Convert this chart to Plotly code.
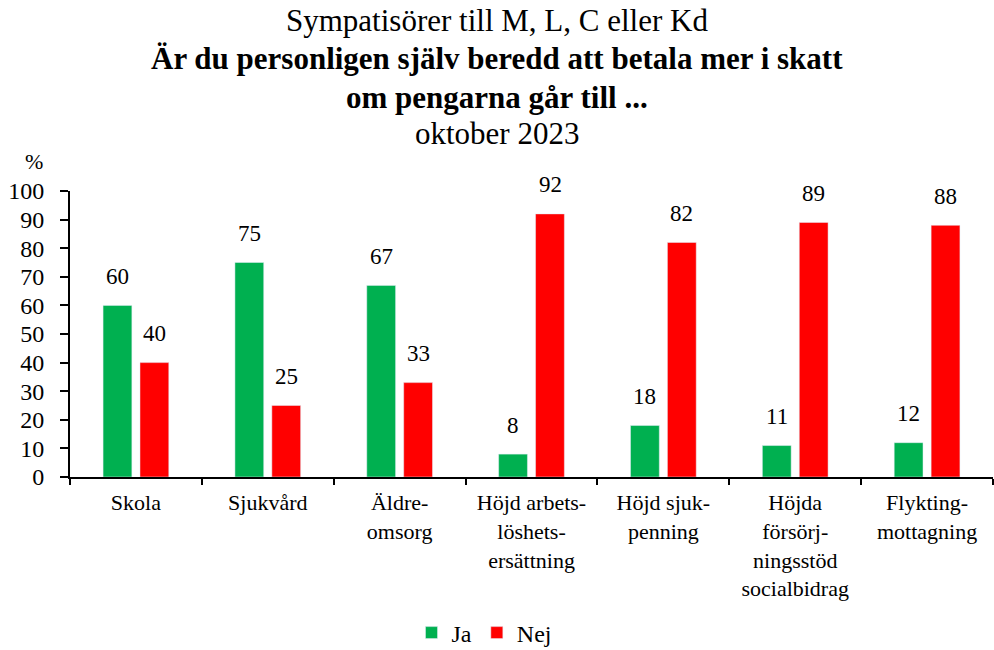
import plotly.graph_objects as go

categories = [
    "Skola",
    "Sjukvård",
    "Äldre-<br>omsorg",
    "Höjd arbets-<br>löshets-<br>ersättning",
    "Höjd sjuk-<br>penning",
    "Höjda<br>försörj-<br>ningsstöd<br>socialbidrag",
    "Flykting-<br>mottagning",
]
ja = [60, 75, 67, 8, 18, 11, 12]
nej = [40, 25, 33, 92, 82, 89, 88]

FONT = "Liberation Serif"
PLOT_TOP, PLOT_H, PLOT_L, PLOT_W = 191, 286, 70, 923


def py(ypx):
    # page pixel y -> paper coordinate
    return 1 + (PLOT_TOP - ypx) / PLOT_H


def px(xpx):
    return (xpx - PLOT_L) / PLOT_W


fig = go.Figure()
fig.add_trace(go.Bar(x=categories, y=ja, name="Ja", marker_color="#00B050"))
fig.add_trace(go.Bar(x=categories, y=nej, name="Nej", marker_color="#FF0000"))

# value labels above bars
for vals, shift in ((ja, -18.5), (nej, 18.5)):
    for cat, v in zip(categories, vals):
        fig.add_annotation(
            x=cat, y=v, text=str(v), showarrow=False, xshift=shift,
            yanchor="middle", yshift=29,
            font=dict(size=23, color="black", family=FONT),
        )

title_lines = [
    ("Sympatisörer till M, L, C eller Kd", 20),
    ("<b>Är du personligen själv beredd att betala mer i skatt</b>", 59),
    ("<b>om pengarna går till ...</b>", 98),
    ("oktober 2023", 133),
]
for txt, ypx in title_lines:
    fig.add_annotation(
        text=txt, xref="paper", yref="paper", x=px(497), xanchor="center",
        y=py(ypx), yanchor="middle", showarrow=False,
        font=dict(size=31, color="black", family=FONT),
    )

fig.add_annotation(
    text="%", xref="paper", yref="paper", x=px(34), y=py(162),
    xanchor="center", yanchor="middle", showarrow=False,
    font=dict(size=22, color="black", family=FONT),
)

fig.update_layout(
    width=994, height=650,
    margin=dict(l=PLOT_L, r=1, t=PLOT_TOP, b=650 - PLOT_TOP - PLOT_H),
    plot_bgcolor="white", paper_bgcolor="white",
    font=dict(family=FONT, size=22, color="black"),
    barmode="group", bargap=0.44, bargroupgap=0.22,
    showlegend=True,
    legend=dict(orientation="h", x=484 / 994, xref="container", xanchor="center",
                y=1 - 633 / 650, yref="container", yanchor="middle",
                font=dict(size=24), itemwidth=30, tracegroupgap=0),
)
fig.update_xaxes(
    automargin=False,
    showline=True, linecolor="black", linewidth=2,
    ticks="outside", tickson="boundaries", ticklen=6, tickcolor="black", tickwidth=2,
    tickfont=dict(size=22), ticklabelstandoff=5,
)
fig.update_yaxes(
    automargin=False,
    range=[0, 100], dtick=10, showgrid=False, zeroline=False,
    showline=True, linecolor="black", linewidth=2,
    ticks="outside", ticklen=8, tickcolor="black", tickwidth=2,
    tickfont=dict(size=24), ticklabelstandoff=11,
)

fig.write_html(
    "out.html",
    config={"displayModeBar": False},
    post_script="document.body.style.margin='0px';",
)
